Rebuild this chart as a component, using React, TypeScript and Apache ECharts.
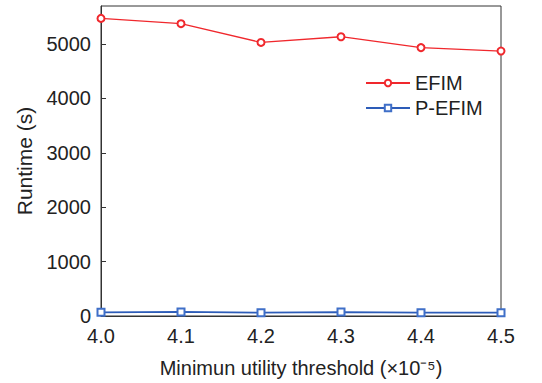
import React, { useEffect, useRef } from "react";
import * as echarts from "echarts";

const thresholds = [4.0, 4.1, 4.2, 4.3, 4.4, 4.5];
const efim = [5472, 5375, 5030, 5135, 4935, 4872];
const pefim = [68, 75, 62, 72, 62, 62];

export default function App() {
  const ref = useRef<HTMLDivElement>(null);
  useEffect(() => {
    const chart = echarts.init(ref.current!, null, { renderer: "svg" });
    const font = "Arial";
    chart.setOption({
      animation: false,
      backgroundColor: "#fff",
      grid: {
        left: 101,
        right: 41,
        top: 6,
        bottom: 67,
        show: true,
        borderColor: "#333",
        borderWidth: 1,
      },
      legend: {
        orient: "vertical",
        left: 360,
        top: 68,
        itemWidth: 44,
        itemHeight: 8,
        itemGap: 5,
        textStyle: { fontFamily: font, fontSize: 20, color: "#222" },
        data: ["EFIM", "P-EFIM"],
      },
      xAxis: {
        type: "value",
        min: 4.0,
        max: 4.5,
        interval: 0.1,
        name: "Minimun utility threshold (×10⁻⁵)",
        nameLocation: "middle",
        nameGap: 42,
        nameTextStyle: { fontFamily: font, fontSize: 20, color: "#222" },
        axisLine: { lineStyle: { color: "#333" } },
        axisTick: { inside: true, length: 5, lineStyle: { color: "#333" } },
        axisLabel: {
          fontFamily: font,
          fontSize: 20,
          color: "#222",
          margin: 10,
          formatter: (v: number) => v.toFixed(1),
        },
        splitLine: { show: false },
      },
      yAxis: {
        type: "value",
        min: 0,
        max: 5700,
        interval: 1000,
        name: "Runtime (s)",
        nameLocation: "middle",
        nameGap: 66,
        nameTextStyle: { fontFamily: font, fontSize: 21, color: "#222" },
        axisLine: { show: true, lineStyle: { color: "#333" } },
        axisTick: { show: true, inside: true, length: 5, lineStyle: { color: "#333" } },
        axisLabel: {
          fontFamily: font,
          fontSize: 20,
          color: "#222",
          margin: 10,
          showMaxLabel: false,
          formatter: (v: number) => String(v),
        },
        splitLine: { show: false },
      },
      series: [
        {
          name: "EFIM",
          type: "line",
          data: thresholds.map((t, i) => [t, efim[i]]),
          symbol: "emptyCircle",
          symbolSize: 7,
          color: "#f0282d",
          lineStyle: { width: 1.3, color: "#f0282d" },
          itemStyle: { color: "#f0282d", borderWidth: 1.1 },
        },
        {
          name: "P-EFIM",
          type: "line",
          data: thresholds.map((t, i) => [t, pefim[i]]),
          symbol: "emptyRect",
          symbolSize: 7,
          color: "#2d5cb8",
          lineStyle: { width: 1.8, color: "#2d5cb8" },
          itemStyle: { color: "#3f6fc8", borderWidth: 1.1 },
        },
      ],
    });
    return () => chart.dispose();
  }, []);
  return <div ref={ref} style={{ width: 542, height: 383, position: "absolute", left: 0, top: 0 }} />;
}
